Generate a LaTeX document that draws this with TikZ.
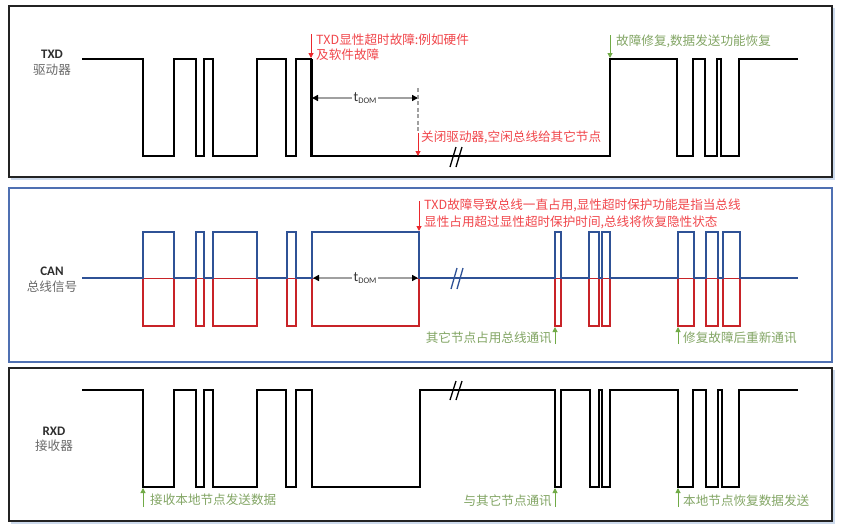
\documentclass[tikz,border=0pt]{standalone}
\usepackage{fontspec}
\setmainfont{Carlito}
\newfontfamily\cjk{Noto Sans CJK SC}
\usetikzlibrary{arrows.meta}
\definecolor{panelblk}{RGB}{35,35,35}
\definecolor{panelshadow}{RGB}{205,218,236}
\definecolor{panelblue}{RGB}{79,112,178}
\definecolor{wblue}{RGB}{47,82,150}
\definecolor{wred}{RGB}{200,35,40}
\definecolor{annred}{RGB}{235,40,45}
\definecolor{txtred}{RGB}{240,70,75}
\definecolor{anngreen}{RGB}{112,170,70}
\definecolor{txtgreen}{RGB}{130,165,100}
\definecolor{lblgray}{RGB}{105,105,105}
\definecolor{lbldark}{RGB}{45,45,45}
\definecolor{dimgray}{RGB}{160,160,160}
\newcommand\annfont{\fontsize{12.6}{14}\selectfont}
\newcommand\tdom{{\fontsize{14}{15}\selectfont t}\raisebox{-1.5pt}{\fontsize{8.5}{9}\selectfont DOM}}
\begin{document}
\begin{tikzpicture}[x=1pt,y=-1pt,
  panel/.style={draw=panelblk,line width=1.6pt},
  shadowline/.style={draw=panelshadow,line width=1.2pt},
  wave/.style={draw=black,line width=1.5pt,line join=miter},
  bluewave/.style={draw=wblue,line width=1.4pt},
  redwave/.style={draw=wred,line width=1.4pt},
  redarr/.style={draw=annred,line width=1pt,-{Triangle[length=5pt,width=5pt]}},
  grnarr/.style={draw=anngreen,line width=1pt,-{Triangle[length=5pt,width=5pt]}},
  dimline/.style={draw=dimgray,line width=2.6pt,{Triangle[length=6pt,width=6pt,color=black]}-{Triangle[length=6pt,width=6pt,color=black]}},
  breakmark/.style={draw=wblue,line width=1.3pt},
  redtxt/.style={inner sep=0pt,text=txtred,font=\annfont\cjk},
  grntxt/.style={inner sep=0pt,text=txtgreen,font=\annfont\cjk},
  lbl/.style={inner sep=0pt,text=lbldark,font=\fontsize{13}{14}\selectfont\bfseries},
  lblcn/.style={inner sep=0pt,text=lblgray,font=\annfont\cjk},
  dimlbl/.style={inner sep=1.5pt,fill=white,text=black!80}]
\path[use as bounding box] (0,0) rectangle (842,528);
% panels
\draw[shadowline] (11,179) -- (834,179) -- (834,8);
\draw[shadowline] (11,523) -- (834,523) -- (834,370);
\draw[panel] (9,6) rectangle (832,177);
\draw[panel,draw=panelblue,line width=1.8pt] (9,188) rectangle (832,362);
\draw[panel] (9,368) rectangle (832,521);

% ---------- TXD ----------
\node[lbl] (txdA) at (52,54) {TXD};
\node[lblcn] (txdB) at (52,70) {驱动器};
\draw[wave] (82,59) -| (143,156) -| (174,59) -| (196,156) -| (204,59) -| (213,156) -| (257,59) -| (286,156) -| (296,59) -| (311,156) -| (610,59) -| (677,156) -| (693,59) -| (705,156) -| (717,59) -| (721,156) -| (739,59) -- (798,59);
\draw[line width=1.2pt] (312.5,59) -- (312.5,156);
\draw[breakmark,draw=black] (450,167) -- (456,147) (456,167) -- (462,147);
\coordinate (f1) at (311,34);
\coordinate (f1t) at (311,58);
\draw[redarr] (f1) -- (f1t);
\node[redtxt,anchor=west] (t1a) at (316,40) {TXD显性超时故障:例如硬件};
\node[redtxt,anchor=west] (t1b) at (316,55) {及软件故障};
\coordinate (d1a) at (312,98);
\coordinate (d1b) at (418,98);
\draw[dimline] (d1a) -- (d1b);
\node[dimlbl] (tdom1) at (365,98) {\tdom};
\coordinate (g1) at (418,88);
\coordinate (g1b) at (418,133);
\draw[dimgray,line width=1.6pt,dash pattern=on 4pt off 2.5pt] (g1) -- (g1b);
\coordinate (r2b) at (418,156);
\draw[redarr] (g1b) -- (r2b);
\node[redtxt,anchor=west] (t2) at (421,137) {关闭驱动器,空闲总线给其它节点};
\coordinate (gr1) at (610,35);
\coordinate (gr1t) at (610,58);
\draw[grnarr] (gr1) -- (gr1t);
\node[grntxt,anchor=west] (t3) at (616,41) {故障修复,数据发送功能恢复};

% ---------- CAN ----------
\node[lbl] (canA) at (52,271) {CAN};
\node[lblcn] (canB) at (52,287) {总线信号};
\foreach \a/\b in {143/174,196/204,213/257,287/296,312/419,555/561,589/599,602/610,678/694,706/718,723/740}
  \draw[redwave] (\a,278.5) |- (\b,326) -- (\b,278.5);
\draw[redwave,line width=1pt] (82,278.8) -- (798,278.8);
\draw[bluewave] (82,278) -| (143,232) -| (174,278) -| (196,232) -| (204,278) -| (213,232) -| (257,278) -| (287,232) -| (296,278) -| (312,232) -| (419,278) -| (555,232) -| (561,278) -| (589,232) -| (599,278) -| (602,232) -| (610,278) -| (678,232) -| (694,278) -| (706,232) -| (718,278) -| (723,232) -| (740,278) -- (798,278);
\draw[breakmark] (451,289) -- (457,268) (457,289) -- (463,268);
\coordinate (d2a) at (313,278);
\coordinate (d2b) at (418,278);
\draw[dimline] (d2a) -- (d2b);
\node[dimlbl] (tdom2) at (365,278) {\tdom};
\coordinate (f2) at (419,201);
\coordinate (f2t) at (419,231);
\draw[redarr] (f2) -- (f2t);
\node[redtxt,anchor=west] (t4a) at (424,205) {TXD故障导致总线一直占用,显性超时保护功能是指当总线};
\node[redtxt,anchor=west] (t4b) at (424,222) {显性占用超过显性超时保护时间,总线将恢复隐性状态};
\coordinate (gc1) at (555,344);
\coordinate (gc1t) at (555,327);
\draw[grnarr] (gc1) -- (gc1t);
\node[grntxt,anchor=east] (t5) at (552,338) {其它节点占用总线通讯};
\coordinate (gc2) at (678,344);
\coordinate (gc2t) at (678,327);
\draw[grnarr] (gc2) -- (gc2t);
\node[grntxt,anchor=west] (t6) at (683,338) {修复故障后重新通讯};

% ---------- RXD ----------
\node[lbl] (rxdA) at (54,431) {RXD};
\node[lblcn] (rxdB) at (54,446) {接收器};
\draw[wave] (82,390) -| (143,487) -| (174,390) -| (196,487) -| (204,390) -| (213,487) -| (257,390) -| (286,487) -| (296,390) -| (312,487) -| (420,390) -| (555,487) -| (561,390) -| (590,487) -| (599,390) -| (602,487) -| (610,390) -| (678,487) -| (693,390) -| (706,487) -| (718,390) -| (722,487) -| (739,390) -- (798,390);
\draw[breakmark,draw=black] (450,400) -- (456,381) (456,400) -- (462,381);
\coordinate (gx1) at (143,507);
\coordinate (gx1t) at (143,488);
\draw[grnarr] (gx1) -- (gx1t);
\node[grntxt,anchor=west] (t7) at (150,500) {接收本地节点发送数据};
\coordinate (gx2) at (555,507);
\coordinate (gx2t) at (555,488);
\draw[grnarr] (gx2) -- (gx2t);
\node[grntxt,anchor=east] (t8) at (552,501) {与其它节点通讯};
\coordinate (gx3) at (678,507);
\coordinate (gx3t) at (678,488);
\draw[grnarr] (gx3) -- (gx3t);
\node[grntxt,anchor=west] (t9) at (683,501) {本地节点恢复数据发送};
\end{tikzpicture}
\end{document}
